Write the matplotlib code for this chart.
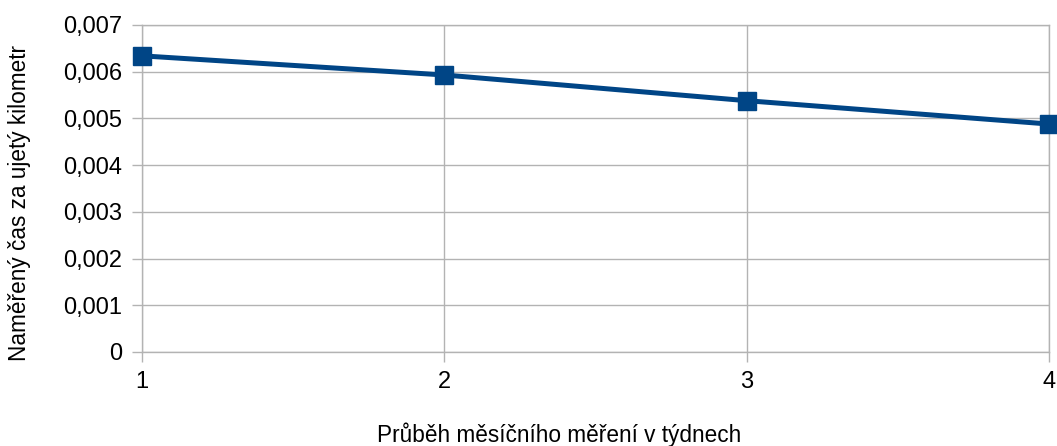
import matplotlib
matplotlib.use("Agg")
import matplotlib.pyplot as plt
from matplotlib.ticker import FuncFormatter

weeks = [1, 2, 3, 4]
values = [0.00634, 0.00593, 0.00538, 0.00488]
x_label = "Průběh měsíčního měření v týdnech"
y_label = "Naměřený čas za ujetý kilometr"

plt.rcParams['font.family'] = ['Liberation Sans', 'DejaVu Sans']

fig = plt.figure(figsize=(10.57, 4.46), dpi=100)
ax = fig.add_axes([142/1057, 1-352/446, (1049-142)/1057, (352-25)/446])

grid_c = '#b3b3b3'
ax.plot(weeks, values, color='#004586', lw=3.6, marker='s', markersize=13.5,
        markerfacecolor='#004586', markeredgecolor='#004586', zorder=3, clip_on=False)

ax.set_xlim(1, 4)
ax.set_ylim(0, 0.007)
ax.set_xticks(weeks)
ax.set_yticks([i * 0.001 for i in range(8)])
ax.yaxis.set_major_formatter(FuncFormatter(lambda v, p: "0" if abs(v) < 1e-12 else f"{v:.3f}".replace('.', ',')))
ax.grid(True, color=grid_c, lw=1)
for s in ax.spines.values():
    s.set_color(grid_c)
    s.set_linewidth(1)
ax.tick_params(axis='both', colors=grid_c, length=7, width=1, labelsize=17, labelcolor='black')
ax.tick_params(axis='x', pad=6.7)
ax.tick_params(axis='y', pad=7.4)

ax.set_xlabel(x_label, fontsize=16.3)
ax.set_ylabel(y_label, fontsize=16.3)
ax.xaxis.set_label_coords(0.46, -0.214)
ax.yaxis.set_label_coords(-0.122, 0.456)

fig.savefig("out.png", dpi=100)
